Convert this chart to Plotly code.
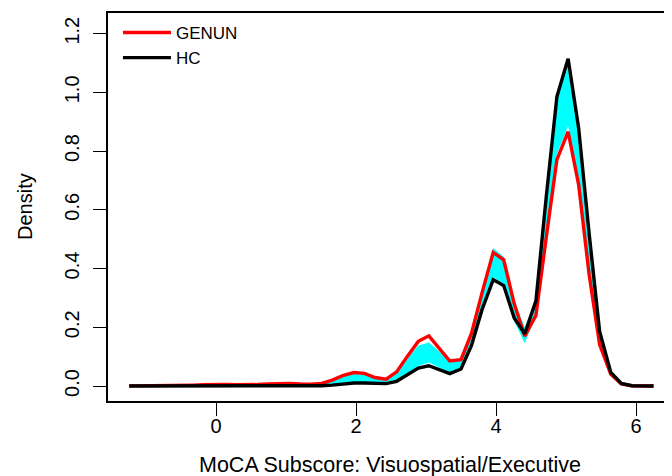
import plotly.graph_objects as go

# Density grid (x) and estimated densities
x = [-1.24, -1.09, -0.94, -0.78, -0.63, -0.48, -0.33, -0.17, -0.02, 0.13,
     0.29, 0.44, 0.59, 0.75, 0.90, 1.05, 1.20, 1.36, 1.51, 1.66,
     1.82, 1.97, 2.12, 2.27, 2.43, 2.58, 2.73, 2.89, 3.04, 3.19,
     3.34, 3.50, 3.65, 3.80, 3.96, 4.11, 4.26, 4.41, 4.57, 4.72,
     4.87, 5.03, 5.18, 5.33, 5.48, 5.64, 5.79, 5.94, 6.10, 6.25]

genun = [0.0005, 0.0005, 0.001, 0.001, 0.0015, 0.002, 0.003, 0.004, 0.005, 0.005,
         0.004, 0.004, 0.005, 0.007, 0.009, 0.009, 0.007, 0.006, 0.009, 0.020,
         0.036, 0.046, 0.043, 0.029, 0.023, 0.048, 0.100, 0.152, 0.171, 0.130,
         0.085, 0.090, 0.180, 0.317, 0.455, 0.430, 0.280, 0.170, 0.240, 0.510,
         0.771, 0.866, 0.686, 0.380, 0.141, 0.040, 0.007, 0.001, 0.0, 0.0]

hc = [0.0, 0.0, 0.0, 0.0, 0.0, 0.0, 0.0, 0.0, 0.0, 0.0,
      0.0, 0.0, 0.0, 0.0005, 0.0005, 0.0005, 0.001, 0.001, 0.001, 0.003,
      0.007, 0.010, 0.010, 0.008, 0.008, 0.016, 0.038, 0.061, 0.069, 0.056,
      0.042, 0.058, 0.138, 0.260, 0.362, 0.342, 0.232, 0.178, 0.290, 0.650,
      0.986, 1.115, 0.879, 0.520, 0.186, 0.046, 0.009, 0.001, 0.0, 0.0]

band_lower = [0.0, 0.0, 0.0, 0.0, 0.0, 0.0, 0.0, 0.0, 0.0, 0.0,
              0.0, 0.0, 0.0, 0.001, 0.001, 0.001, 0.001, 0.001, 0.001, 0.003,
              0.007, 0.011, 0.011, 0.009, 0.009, 0.017, 0.042, 0.068, 0.080, 0.062,
              0.045, 0.062, 0.140, 0.265, 0.370, 0.345, 0.220, 0.146, 0.240, 0.520,
              0.790, 0.885, 0.700, 0.400, 0.145, 0.035, 0.005, 0.0, 0.0, 0.0]

band_upper = [0.0005, 0.0005, 0.001, 0.001, 0.0015, 0.002, 0.003, 0.004, 0.005, 0.005,
              0.004, 0.004, 0.005, 0.007, 0.008, 0.008, 0.006, 0.005, 0.008, 0.018,
              0.033, 0.043, 0.040, 0.027, 0.022, 0.045, 0.093, 0.138, 0.148, 0.118,
              0.080, 0.088, 0.180, 0.325, 0.470, 0.440, 0.290, 0.200, 0.290, 0.640,
              0.980, 1.105, 0.870, 0.510, 0.190, 0.050, 0.010, 0.001, 0.0, 0.0]

x_ticks = [0, 2, 4, 6]
y_ticks = [0.0, 0.2, 0.4, 0.6, 0.8, 1.0, 1.2]
y_tick_text = ["0.0", "0.2", "0.4", "0.6", "0.8", "1.0", "1.2"]
x_title = "MoCA Subscore: Visuospatial/Executive"
y_title = "Density"

FONT = "Liberation Sans, Arial, sans-serif"
FS = 20

fig = go.Figure()
fig.add_trace(go.Scatter(x=x, y=band_lower, mode="lines", line=dict(width=0, color="cyan"),
                         showlegend=False, hoverinfo="skip"))
fig.add_trace(go.Scatter(x=x, y=band_upper, mode="lines", line=dict(width=0, color="cyan"),
                         fill="tonexty", fillcolor="#00FFFF", showlegend=False, hoverinfo="skip"))
fig.add_trace(go.Scatter(x=x, y=genun, mode="lines", name="GENUN",
                         line=dict(color="#FF0000", width=3.4)))
fig.add_trace(go.Scatter(x=x, y=hc, mode="lines", name="HC",
                         line=dict(color="#000000", width=3.4)))

# The page body has an 8px default margin; the figure is sized to fill the window.
fig.update_layout(
    width=664, height=468,
    margin=dict(l=100, r=0, t=5, b=75),
    paper_bgcolor="white", plot_bgcolor="white",
    font=dict(family=FONT, size=FS, color="black"),
    showlegend=True,
    legend=dict(x=0.0177, y=0.995, xanchor="left", yanchor="top", traceorder="normal",
                bgcolor="rgba(0,0,0,0)", font=dict(size=17),
                tracegroupgap=0, itemwidth=48),
    xaxis=dict(range=[-1.543, 6.514], tickvals=x_ticks, ticks="outside", ticklen=13,
               tickwidth=1.3, tickcolor="black", showline=True, linecolor="black",
               linewidth=1.5, mirror=True, showgrid=False, zeroline=False,
               automargin=False, tickfont=dict(size=FS), ticklabelstandoff=-7),
    yaxis=dict(range=[-0.0511, 1.2704], tickvals=y_ticks, ticktext=y_tick_text,
               ticks="outside", ticklen=13, tickwidth=1.3, tickcolor="black",
               showline=True, linecolor="black", linewidth=1.5, showgrid=False,
               zeroline=False, tickangle=-90, automargin=False,
               tickfont=dict(size=FS), ticklabelstandoff=6),
    annotations=[
        dict(text=x_title, xref="paper", yref="paper", x=0.5, y=0, yshift=-64,
             xanchor="center", yanchor="middle", showarrow=False,
             font=dict(size=21.5)),
        dict(text=y_title, xref="paper", yref="paper", x=0, xshift=-83, y=0.5,
             xanchor="center", yanchor="middle", textangle=-90, showarrow=False,
             font=dict(size=FS)),
    ],
)

fig.write_html("out.html")
